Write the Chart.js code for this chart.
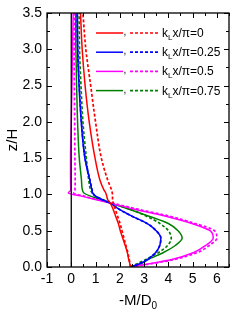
<!DOCTYPE html>
<html>
<head>
<meta charset="utf-8">
<script src="https://cdn.jsdelivr.net/npm/chart.js@4.4.0/dist/chart.umd.min.js"></script>
<style>
html, body { margin: 0; padding: 0; background: #fff; }
</style>
</head>
<body>
<canvas id="myChart" width="249" height="316"></canvas>
<script>
// heights z/H shared by every curve
var zLevels = [0, 0.05, 0.1, 0.2, 0.3, 0.4, 0.5, 0.6, 0.7, 0.8, 0.88, 0.93, 0.98, 1.02, 1.06, 1.2, 1.5, 2.0, 2.5, 3.0, 3.5];

// -M/D0 values, solid and dashed, for each kLx/pi
var k0Solid    = [2.44, 2.41, 2.37, 2.31, 2.22, 2.12, 2.02, 1.94, 1.83, 1.72, 1.61, 1.5, 1.46, 1.42, 1.35, 1.18, 0.98, 0.74, 0.57, 0.45, 0.38];
var k0Dashed   = [2.44, 2.42, 2.39, 2.33, 2.25, 2.17, 2.09, 2.01, 1.91, 1.81, 1.73, 1.7, 1.7, 1.69, 1.66, 1.5, 1.24, 1.0, 0.8, 0.6, 0.48];
var k025Solid  = [2.44, 2.85, 3.13, 3.48, 3.65, 3.69, 3.5, 3.12, 2.5, 1.95, 1.6, 1.25, 0.98, 0.88, 0.85, 0.76, 0.56, 0.41, 0.32, 0.26, 0.24];
var k025Dashed = [2.44, 2.85, 3.13, 3.48, 3.65, 3.69, 3.5, 3.12, 2.5, 1.95, 1.6, 1.26, 0.99, 0.89, 0.86, 0.77, 0.57, 0.42, 0.33, 0.27, 0.25];
var k05Solid   = [2.44, 3.3, 4.1, 5.05, 5.55, 5.85, 5.72, 4.97, 3.9, 2.55, 1.6, 0.99, 0.37, -0.12, -0.02, -0.03, -0.03, 0.0, 0.03, 0.05, 0.08];
var k05Dashed  = [2.44, 3.4, 4.2, 5.2, 5.7, 6.0, 5.9, 5.1, 4.05, 2.7, 1.7, 1.05, 0.5, 0.1, 0.15, 0.16, 0.15, 0.14, 0.13, 0.12, 0.12];
var k075Solid  = [2.44, 2.9, 3.15, 3.8, 4.3, 4.57, 4.4, 4.0, 3.2, 2.35, 1.62, 1.2, 0.77, 0.52, 0.46, 0.42, 0.33, 0.26, 0.22, 0.19, 0.18];
var k075Dashed = [2.44, 2.75, 3.05, 3.6, 3.98, 4.12, 4.0, 3.65, 3.1, 2.4, 1.65, 1.3, 0.98, 0.86, 0.8, 0.72, 0.62, 0.48, 0.4, 0.34, 0.32];

var legendLabels = ['0', '0.25', '0.5', '0.75'];
var xTickLabels = ['-1', '0', '1', '2', '3', '4', '5', '6'];
var yTickLabels = ['0.0', '0.5', '1.0', '1.5', '2.0', '2.5', '3.0', '3.5'];

var colors = ['#ff0000', '#0000ff', '#ff00ff', '#008000'];
var solids = [k0Solid, k025Solid, k05Solid, k075Solid];
var dashes = [k0Dashed, k025Dashed, k05Dashed, k075Dashed];

function toPoints(values) {
    return values.map(function (v, i) { return { x: v, y: zLevels[i] }; });
}

var datasets = [{
    data: [{ x: 0, y: 0 }, { x: 0, y: 3.5 }],
    borderColor: '#000',
    borderWidth: 1.3,
    cubicInterpolationMode: 'default'
}];
for (var i = 0; i < colors.length; i++) {
    datasets.push({ data: toPoints(dashes[i]), borderColor: colors[i], borderWidth: 1.7, borderDash: [3, 2] });
    datasets.push({ data: toPoints(solids[i]), borderColor: colors[i], borderWidth: 1.5 });
}

var font = '"Liberation Sans", Arial, sans-serif';

// box, inward ticks, tick labels, titles and the paired legend
var framePlugin = {
    id: 'frame',
    afterDraw: function (chart) {
        var ctx = chart.ctx, a = chart.chartArea;
        var xs = chart.scales.x, ys = chart.scales.y;
        ctx.save();
        ctx.strokeStyle = '#000';
        ctx.lineWidth = 1.3;
        ctx.strokeRect(a.left, a.top, a.right - a.left, a.bottom - a.top);

        ctx.lineWidth = 1;
        ctx.beginPath();
        for (var v = -1; v <= 6.5; v += 0.5) {
            var px = Math.round(xs.getPixelForValue(v)) + 0.5;
            var len = (v % 1 === 0) ? 5 : 3;
            ctx.moveTo(px, a.bottom); ctx.lineTo(px, a.bottom - len);
            ctx.moveTo(px, a.top); ctx.lineTo(px, a.top + len);
        }
        for (var w = 0; w <= 3.5; w += 0.25) {
            var py = Math.round(ys.getPixelForValue(w)) + 0.5;
            var ln = (w % 0.5 === 0) ? 5 : 3;
            ctx.moveTo(a.left, py); ctx.lineTo(a.left + ln, py);
            ctx.moveTo(a.right, py); ctx.lineTo(a.right - ln, py);
        }
        ctx.stroke();

        ctx.fillStyle = '#000';
        ctx.font = '14px ' + font;
        ctx.textAlign = 'center';
        ctx.textBaseline = 'top';
        xTickLabels.forEach(function (t) {
            ctx.fillText(t, xs.getPixelForValue(Number(t)), a.bottom + 5);
        });
        ctx.textAlign = 'right';
        ctx.textBaseline = 'middle';
        yTickLabels.forEach(function (t) {
            ctx.fillText(t, a.left - 5, ys.getPixelForValue(Number(t)));
        });

        // axis titles
        ctx.font = '15px ' + font;
        ctx.textAlign = 'left';
        ctx.textBaseline = 'alphabetic';
        var xt = '-M/D';
        var wx = ctx.measureText(xt).width;
        ctx.font = '10px ' + font;
        var w0 = ctx.measureText('0').width;
        var sx = (a.left + a.right) / 2 - (wx + w0) / 2;
        ctx.font = '15px ' + font;
        ctx.fillText(xt, sx, 305);
        ctx.font = '10px ' + font;
        ctx.fillText('0', sx + wx, 309);

        ctx.save();
        ctx.translate(17, (a.top + a.bottom) / 2);
        ctx.rotate(-Math.PI / 2);
        ctx.font = '15px ' + font;
        ctx.textAlign = 'center';
        ctx.fillText('z/H', 0, 0);
        ctx.restore();

        // legend: solid, comma, dashed, label
        for (var k = 0; k < legendLabels.length; k++) {
            var y = 33 + k * 19.2;
            ctx.strokeStyle = colors[k];
            ctx.lineWidth = 1.5;
            ctx.setLineDash([]);
            ctx.beginPath(); ctx.moveTo(96, y); ctx.lineTo(123, y); ctx.stroke();
            ctx.fillStyle = '#000';
            ctx.font = '10px ' + font;
            ctx.textAlign = 'left';
            ctx.fillText(',', 123.5, y + 2);
            ctx.setLineDash([3, 2]);
            ctx.lineWidth = 1.7;
            ctx.beginPath(); ctx.moveTo(130, y); ctx.lineTo(159, y); ctx.stroke();
            ctx.setLineDash([]);
            var tx = 162;
            ctx.font = '12px ' + font;
            ctx.fillText('k', tx, y + 4);
            tx += ctx.measureText('k').width;
            ctx.font = '8px ' + font;
            ctx.fillText('L', tx, y + 7);
            tx += ctx.measureText('L').width;
            ctx.font = '12px ' + font;
            ctx.fillText('x/\u03c0=' + legendLabels[k], tx, y + 4);
        }
        ctx.restore();
    }
};

window.onload = function () {
    var ctx = document.getElementById('myChart').getContext('2d');
    new Chart(ctx, {
        type: 'line',
        data: { datasets: datasets },
        options: {
            indexAxis: 'y',
            responsive: false,
            animation: false,
            devicePixelRatio: 1,
            layout: { padding: { left: 47, right: 20, top: 13, bottom: 49 } },
            elements: {
                point: { radius: 0 },
                line: { cubicInterpolationMode: 'monotone', fill: false }
            },
            plugins: { legend: { display: false }, tooltip: { enabled: false } },
            scales: {
                x: { type: 'linear', min: -1, max: 6.5, display: false },
                y: { type: 'linear', min: 0, max: 3.5, display: false }
            }
        },
        plugins: [framePlugin]
    });
};
</script>
</body>
</html>
